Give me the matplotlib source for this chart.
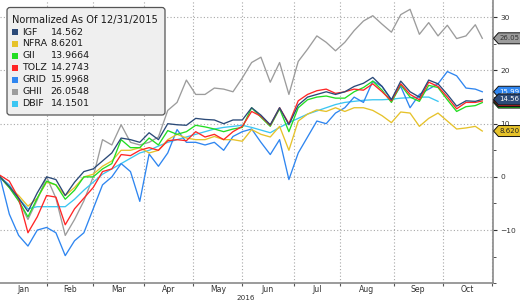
import numpy as np
import pandas as pd
import matplotlib
matplotlib.use("Agg")
import matplotlib.pyplot as plt
from matplotlib.path import Path
from matplotlib.patches import FancyBboxPatch, Rectangle
from matplotlib.transforms import Affine2D
import matplotlib.ticker as mticker

# ---------------- data ----------------
holidays = ["2016-01-01", "2016-01-18", "2016-02-15", "2016-03-25",
            "2016-05-30", "2016-07-04", "2016-09-05"]
cal = pd.bdate_range("2015-12-31", "2016-11-01", freq="C", holidays=holidays)
sample_dates = cal[np.r_[np.arange(0, 205, 4), 207]]

names = ["IGF", "NFRA", "GII", "TOLZ", "GRID", "GHII", "DBIF"]
last_values = ["14.562", "8.6201", "13.9664", "14.2743", "15.9968", "26.0548", "14.1501"]
tag_labels = ["14.56", "8.620", "13.97", "14.27", "15.99", "26.05", "14.15"]
colors = ["#2b4a78", "#e6c22a", "#22dd22", "#ff2626", "#2f86f0", "#9c9c9c", "#3cc6f2"]

igf = [0, -1.8, -4, -6.5, -3, 0, -0.5, -3.5, -1, 1, 1.5, 3, 4.5, 7.3, 7, 6.5, 8.3, 7,
       10, 9.8, 9.7, 11, 10.8, 10.7, 10, 10.7, 10.7, 13, 11.6, 9.8, 13, 9.8, 13.5, 15,
       15.5, 16, 15.5, 16, 17, 17.6, 18.7, 17, 14.5, 18, 16, 15, 18.2, 17.5, 15.5, 13.3,
       14.3, 14.2, 14.56]
nfra = [0, -2, -3.5, -5.5, -4, -1, -1.5, -3.5, -2, 0, 0.5, 2, 3, 5, 5, 5.5, 4.5, 5,
        7, 8, 7.3, 7, 7, 7.6, 7, 7, 6.7, 8.9, 8, 7.5, 9.5, 5, 10.5, 11.8, 12.6, 12.3,
        13, 12.3, 13, 13, 12.5, 11.5, 10.2, 12.2, 12, 9.5, 11, 12, 10.5, 9, 9.2, 9.5, 8.62]
gii = [0, -2, -4.5, -7.5, -4, -0.8, -1.5, -4.2, -2.5, 0, 0, 1.5, 2.5, 7, 5.5, 5.5, 7.3,
       6, 8.7, 8, 8.5, 9.7, 9.4, 9, 8.5, 9, 9.3, 13, 11.2, 9.5, 12.8, 8.5, 13, 14.5, 15,
       15.2, 14.8, 14.8, 16, 16.8, 18, 16.3, 14, 17.3, 15, 14.2, 17.2, 16.8, 14.5, 12.3,
       13.2, 13.4, 13.97]
tolz = [0.3, -0.8, -4, -10.5, -7.5, -3.5, -3.8, -9, -6, -4, -2, 1, 1.5, 4.2, 4, 5, 5.5,
        5, 6.8, 7, 6.8, 8.5, 7.5, 8, 7, 8.5, 9.5, 12.3, 11.4, 9.7, 13, 10, 14.3, 15.5,
        16.2, 16.5, 15.7, 16, 16.5, 16.3, 17.5, 16, 14.3, 17.5, 15.5, 14.5, 17.8, 17, 15,
        12.8, 14, 14, 14.27]
grid = [0, -7, -11, -13, -10, -9.5, -10.5, -14.8, -12, -10.5, -6, -1.5, 0, 2.5, 1, -4.6,
        4.3, 2, 4.5, 8.9, 6.5, 6.5, 6, 6.5, 5, 7.6, 8.5, 9, 6.5, 4.2, 7, -0.5, 4.5, 7.5,
        10.5, 10, 12, 13, 15, 14, 18, 17, 14.5, 17, 13, 15.5, 16.5, 17.5, 19.8, 19, 16.7,
        16.5, 16.0]
ghii = [0, -2, -4.5, -8, -4.3, 0, -4, -11, -8, -4.5, 0, 7, 6, 9.8, 6.5, 6, 6.5, 7.5,
        12.5, 14, 18.2, 15.5, 15.5, 16.7, 16.5, 16, 18.6, 21.5, 22.5, 17.8, 21.5, 15.5,
        21.7, 24, 26.5, 25.3, 23.7, 25.3, 27.5, 29.3, 30.3, 28.7, 27.2, 30.5, 31.5, 26.8,
        29, 26.5, 28.5, 26, 26.5, 28.6, 26.05]
dbif = [0, -1.5, -4, -6, -5.6, -5.6, -5.6, -5.6, -4.2, -2.5, -1, 0.5, 1.5, 2.5, 3.5, 4.5,
        5, 5.8, 6.5, 7, 7.5, 8, 8.5, 9, 9.3, 9.5, 9.7, 9.3, 8.8, 8.3, 9.3, 10.2, 11, 11.8,
        12.4, 13, 13.6, 14, 14.2, 14.4, 14.5, 14.5, 14.6, 14.8, 14.9, 15, 15, 14.2,
        np.nan, np.nan, np.nan, np.nan, np.nan]

series = [igf, nfra, gii, tolz, grid, ghii, dbif]

y_ticks = [-10, 0, 10, 20, 30]
month_labels = ["Jan", "Feb", "Mar", "Apr", "May", "Jun", "Jul", "Aug", "Sep", "Oct"]

# ---------------- figure ----------------
W, H = 520, 303
fig = plt.figure(figsize=(W / 100, H / 100), dpi=100)
ax = fig.add_axes([0, 19.7 / H, 493 / W, 1 - 19.7 / H])

x = cal.get_indexer(sample_dates)

order = [5, 6, 4, 1, 2, 3, 0]
for i in order:
    ax.plot(x, series[i], color=colors[i], lw=0.95, zorder=3 + order.index(i) * 0.1,
            solid_joinstyle="round")

# month boundaries from the trading calendar (first trading day of Feb ... Nov 2016)
months = cal.to_period("M")
month_list = [m for m in months.unique() if m.year == 2016]
first_idx = [int(np.where(months == m)[0][0]) for m in month_list]
bounds = first_idx[1:]
starts = [0] + bounds[:-1]
centers = [(a + b) / 2 for a, b in zip(starts, bounds)]

ax.set_xlim(0, bounds[-1] + 0.6)
ax.set_ylim(-20, 33.25)

ax.xaxis.set_major_locator(mticker.FixedLocator(bounds))
ax.xaxis.set_major_formatter(mticker.NullFormatter())
ax.xaxis.set_minor_locator(mticker.FixedLocator(centers))
ax.xaxis.set_minor_formatter(mticker.FixedFormatter(month_labels))
ax.tick_params(axis="x", which="major", length=2.5, width=0.8, color="#555555")
ax.tick_params(axis="x", which="minor", length=0, pad=1.5, labelsize=5.6,
               labelcolor="#333333")

ax.yaxis.tick_right()
ax.yaxis.set_major_locator(mticker.FixedLocator(y_ticks))
ax.yaxis.set_minor_locator(mticker.MultipleLocator(5))
ax.tick_params(axis="y", which="major", length=3, width=0.8, pad=2.5, labelsize=5.4,
               labelcolor="#333333", color="#333333")
ax.tick_params(axis="y", which="minor", length=2, width=0.6, color="#333333")

ax.grid(True, which="major", color="#a8a8a8", linestyle=(0, (1, 2)), linewidth=0.8)
for s in ["left", "top"]:
    ax.spines[s].set_visible(False)
for s in ["bottom", "right"]:
    ax.spines[s].set_color("#8a8a8a")
    ax.spines[s].set_linewidth(1.2)

fig.text(246 / W, 1 - 298.5 / H, "2016", ha="center", va="center", fontsize=5.2,
         color="#333333")

# ---------------- right-side value tags ----------------
def tag_style(x0, y0, width, height, mutation_size):
    pad = 0.3 * mutation_size
    xl, xr = x0 - pad * 0.5, x0 + width + pad * 2
    yb, yt = y0 - pad * 1.2, y0 + height + pad * 1.2
    ym = (yb + yt) / 2
    tip = (yt - yb) * 0.45
    verts = [(xl - tip, ym), (xl, yt), (xr, yt), (xr, yb), (xl, yb), (xl - tip, ym)]
    codes = [Path.MOVETO] + [Path.LINETO] * 4 + [Path.CLOSEPOLY]
    return Path(verts, codes)

# draw order: lower tags first, navy on top; red/green tags are covered in the reference
tag_order = [5, 1, 2, 3, 4, 0]
hidden = {2, 3}
tag_text_colors = {0: "white", 1: "#222222", 2: "#222222", 3: "white", 4: "white",
                   5: "#333333"}
for k, i in enumerate(tag_order):
    vals = [v for v in series[i] if not np.isnan(v)]
    txt = "\u2007" * len(tag_labels[i]) if i in hidden else tag_labels[i]
    ax.text(1.0 + 6.5 / 493, vals[-1], txt, transform=ax.get_yaxis_transform(),
            ha="left", va="center", fontsize=5.0, color=tag_text_colors[i],
            clip_on=False, zorder=10 + k,
            bbox=dict(boxstyle=tag_style, facecolor=colors[i], edgecolor="#111111",
                      linewidth=0.7))

# ---------------- legend box ----------------
px = Affine2D().scale(1 / 100) + fig.dpi_scale_trans  # pixel coords, y from bottom

def fy(y):
    return H - y

box = FancyBboxPatch((7, fy(115)), 158, 107.5, boxstyle="round,pad=0,rounding_size=3",
                     transform=px, facecolor="#efefef", edgecolor="#555555",
                     linewidth=0.9, zorder=20)
fig.add_artist(box)
fig.text(11.5, fy(19.5), "Normalized As Of 12/31/2015", transform=px, fontsize=7.1,
         va="center", ha="left", color="#1a1a1a", zorder=21)
row_y = [32.3, 43.6, 55.6, 67.6, 79.6, 91.6, 103.6]
for i, ry in enumerate(row_y):
    fig.add_artist(Rectangle((12.3, fy(ry) - 3), 6, 6, transform=px,
                             facecolor=colors[i], edgecolor="none", zorder=21))
    fig.text(22.3, fy(ry), names[i], transform=px, fontsize=6.8, va="center",
             ha="left", color="#1a1a1a", zorder=21)
    fig.text(50.7, fy(ry), last_values[i], transform=px, fontsize=6.8, va="center",
             ha="left", color="#1a1a1a", zorder=21)

fig.savefig("out.png", dpi=100)
